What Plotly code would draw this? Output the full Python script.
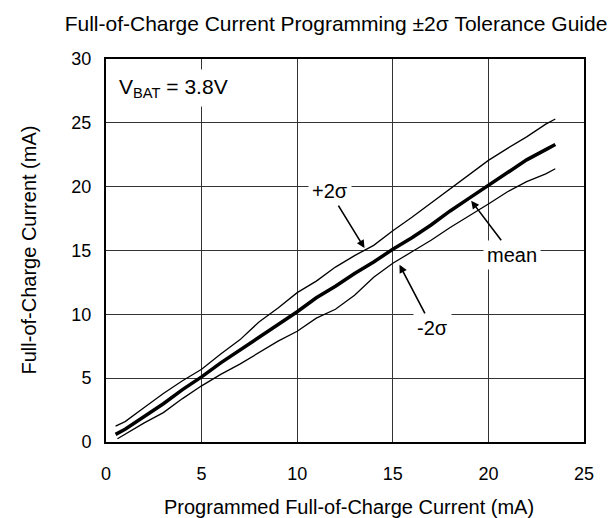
import plotly.graph_objects as go

# Data
x_mean = [0.5, 1, 2, 3, 4, 5, 6, 7, 8, 9, 10, 11, 12, 13, 14, 15, 16, 17, 18, 19, 20, 21, 22, 23, 23.5]
y_mean = [0.6, 1.0, 2.0, 3.0, 4.1, 5.1, 6.2, 7.2, 8.2, 9.2, 10.2, 11.3, 12.2, 13.2, 14.1, 15.1,
          16.0, 17.0, 18.1, 19.1, 20.1, 21.1, 22.1, 22.9, 23.3]

x_plus = [0.5, 1, 2, 3, 4, 5, 6, 7, 8, 9, 10, 11, 12, 13, 14, 15, 16, 17, 18, 19, 20, 21, 22, 23, 23.5]
y_plus = [1.25, 1.6, 2.7, 3.8, 4.8, 5.7, 6.9, 8.0, 9.4, 10.5, 11.7, 12.6, 13.7, 14.6, 15.4, 16.55,
          17.6, 18.7, 19.8, 20.9, 22.06, 23.0, 23.9, 24.9, 25.3]

x_minus = [0.6, 1, 2, 3, 4, 5, 6, 7, 8, 9, 10, 11, 12, 13, 14, 15, 16, 17, 18, 19, 20, 21, 22, 23, 23.5]
y_minus = [0.25, 0.6, 1.5, 2.3, 3.4, 4.4, 5.3, 6.1, 7.0, 7.9, 8.67, 9.7, 10.4, 11.5, 12.9, 14.0,
           14.9, 15.8, 16.8, 17.7, 18.64, 19.6, 20.4, 21.0, 21.4]

x_ticks = [0, 5, 10, 15, 20, 25]
y_ticks = [0, 5, 10, 15, 20, 25, 30]

FONT = "Liberation Sans, Arial, sans-serif"

fig = go.Figure()
fig.add_trace(go.Scatter(x=x_plus, y=y_plus, mode="lines", line=dict(color="black", width=1.3),
                         showlegend=False, hoverinfo="skip"))
fig.add_trace(go.Scatter(x=x_minus, y=y_minus, mode="lines", line=dict(color="black", width=1.3),
                         showlegend=False, hoverinfo="skip"))
fig.add_trace(go.Scatter(x=x_mean, y=y_mean, mode="lines", line=dict(color="black", width=3.5),
                         showlegend=False, hoverinfo="skip"))

ann_common = dict(showarrow=True, arrowhead=2, arrowsize=1, arrowwidth=1.6, arrowcolor="black",
                  bgcolor="white", borderpad=3, font=dict(family=FONT, size=20, color="black"),
                  standoff=0, xref="x", yref="y")

fig.update_layout(
    width=616, height=518,
    margin=dict(l=98, r=40, t=51, b=84),
    paper_bgcolor="white", plot_bgcolor="white",
    font=dict(family=FONT, color="black"),
    title=dict(text="Full-of-Charge Current Programming ±2σ Tolerance Guide",
               x=328 / 616, xanchor="center", y=1 - 16 / 518, yanchor="middle",
               font=dict(family=FONT, size=21, color="black")),
    xaxis=dict(range=[0, 25], tickvals=x_ticks, showgrid=True, gridcolor="#333333", gridwidth=1,
               zeroline=False, showline=True, linecolor="black", linewidth=2, mirror=True,
               ticks="outside", ticklen=14, tickcolor="rgba(0,0,0,0)",
               tickfont=dict(family=FONT, size=18, color="black")),
    yaxis=dict(range=[0, 30], tickvals=y_ticks, showgrid=True, gridcolor="#333333", gridwidth=1,
               zeroline=False, showline=True, linecolor="black", linewidth=2, mirror=True,
               ticks="outside", ticklen=9, tickcolor="rgba(0,0,0,0)",
               tickfont=dict(family=FONT, size=18, color="black")),
    annotations=[
        dict(text="Programmed Full-of-Charge Current (mA)", x=0.5, y=0, xref="paper", yref="paper",
             xanchor="center", yanchor="middle", yshift=-65, xshift=4, showarrow=False,
             font=dict(family=FONT, size=20, color="black")),
        dict(text="Full-of-Charge Current (mA)", x=0, y=0.5, xref="paper", yref="paper",
             xanchor="center", yanchor="middle", xshift=-78, textangle=-90, showarrow=False,
             font=dict(family=FONT, size=20, color="black")),
        dict(text="V<sub>BAT</sub> = 3.8V", x=0.014, y=0.924, xref="paper", yref="paper",
             xanchor="left", yanchor="middle", showarrow=False, bgcolor="white", borderpad=5,
             font=dict(family=FONT, size=21, color="black")),
        dict(text="+2σ", x=13.52, y=15.19, ax=-35, ay=-57, **ann_common),
        dict(text="-2σ", x=15.35, y=13.88, ax=33, ay=63, **ann_common),
        dict(text="mean", x=19.1, y=18.9, ax=41, ay=54, **ann_common),
    ],
)

fig.write_html("out.html")
